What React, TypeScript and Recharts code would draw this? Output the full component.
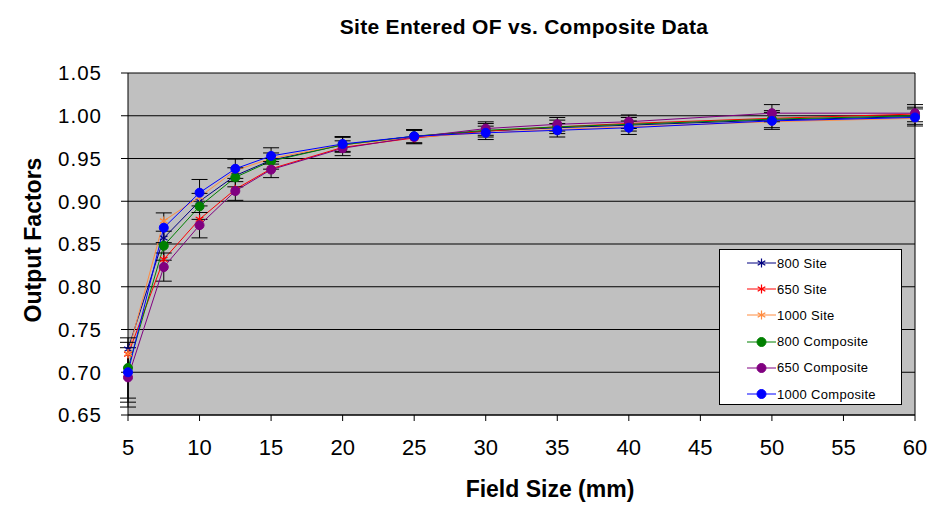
import React from 'react';
import { LineChart, Line, XAxis, YAxis, CartesianGrid, ErrorBar, ReferenceLine } from 'recharts';

// field sizes (mm)
const fieldSizes = [5, 7.5, 10, 12.5, 15, 20, 25, 30, 35, 40, 50, 60];

// output factors
const site800 = [0.727, 0.857, 0.9, 0.93, 0.948, 0.966, 0.976, 0.982, 0.986, 0.989, 0.995, 0.999];
const site650 = [0.721, 0.832, 0.879, 0.914, 0.938, 0.963, 0.974, 0.982, 0.987, 0.991, 0.997, 1.002];
const site1000 = [0.722, 0.877, 0.905, 0.936, 0.95, 0.966, 0.975, 0.98, 0.984, 0.987, 0.993, 0.997];
const comp800 = [0.705, 0.848, 0.894, 0.928, 0.947, 0.966, 0.976, 0.983, 0.987, 0.99, 0.996, 1.0];
const comp650 = [0.694, 0.823, 0.872, 0.912, 0.937, 0.962, 0.975, 0.985, 0.99, 0.993, 1.003, 1.003];
const comp1000 = [0.7, 0.869, 0.91, 0.938, 0.953, 0.967, 0.976, 0.98, 0.983, 0.986, 0.994, 0.998];

// error bar size on the composite data, percent
const errorPct = [5, 2, 1.7, 1.2, 1, 0.9, 0.8, 0.8, 0.8, 0.8, 1, 1];

const yTicks = [0.65, 0.7, 0.75, 0.8, 0.85, 0.9, 0.95, 1.0, 1.05];
const xTicks = [5, 10, 15, 20, 25, 30, 35, 40, 45, 50, 55, 60];

const series = [
  { key: 'site800', name: '800 Site', values: site800, color: '#000080', marker: 'star' },
  { key: 'site650', name: '650 Site', values: site650, color: '#FF0000', marker: 'star' },
  { key: 'site1000', name: '1000 Site', values: site1000, color: '#FF8C40', marker: 'star' },
  { key: 'comp800', name: '800 Composite', values: comp800, color: '#008000', marker: 'circle' },
  { key: 'comp650', name: '650 Composite', values: comp650, color: '#800080', marker: 'circle' },
  { key: 'comp1000', name: '1000 Composite', values: comp1000, color: '#0000FF', marker: 'circle' },
];

const data = fieldSizes.map((x, i) => {
  const row: any = { x };
  series.forEach((s) => {
    row[s.key] = s.values[i];
    if (s.marker === 'circle') row[s.key + 'Err'] = (s.values[i] * errorPct[i]) / 100;
  });
  return row;
});

const FONT = '"Liberation Sans", Arial, sans-serif';

function Marker({ cx, cy, color, marker }: any) {
  if (cx == null || cy == null) return null;
  if (marker === 'circle') {
    return <circle cx={cx} cy={cy} r={4.5} fill={color} stroke={color} />;
  }
  const r = 4.5;
  const d = r * 0.85;
  return (
    <g stroke={color} strokeWidth={1.2}>
      <line x1={cx} y1={cy - r} x2={cx} y2={cy + r} />
      <line x1={cx - d} y1={cy - d * 0.6} x2={cx + d} y2={cy + d * 0.6} />
      <line x1={cx - d} y1={cy + d * 0.6} x2={cx + d} y2={cy - d * 0.6} />
    </g>
  );
}

// legend box sits on top of the plot, like the Excel original
function LegendBox() {
  return (
    <div
      style={{
        position: 'absolute',
        left: 719,
        top: 249,
        width: 183,
        height: 156,
        boxSizing: 'border-box',
        background: '#fff',
        border: '1px solid #000',
        paddingTop: 0,
        fontFamily: FONT,
        fontSize: 13,
        letterSpacing: 0.3,
        color: '#000',
      }}
    >
      {series.map((s) => (
        <div key={s.key} style={{ display: 'flex', alignItems: 'center', height: 26.2, paddingLeft: 27 }}>
          <svg width={29} height={12} style={{ marginRight: 1 }}>
            <line x1={0} y1={6} x2={29} y2={6} stroke={s.color} strokeWidth={1} />
            <Marker cx={14.5} cy={6} color={s.color} marker={s.marker} />
          </svg>
          <span>{s.name}</span>
        </div>
      ))}
    </div>
  );
}

export default function App() {
  return (
    <div style={{ position: 'absolute', left: 0, top: 0, width: 934, height: 518, background: '#fff' }}>
      <div
        style={{
          position: 'absolute',
          left: 0,
          width: 1048,
          top: 15,
          textAlign: 'center',
          fontFamily: FONT,
          fontWeight: 'bold',
          fontSize: 21,
          letterSpacing: 0.3,
        }}
      >
        Site Entered OF vs. Composite Data
      </div>
      <div
        style={{
          position: 'absolute',
          left: 33,
          top: 240,
          transform: 'translate(-50%, -50%) rotate(-90deg)',
          whiteSpace: 'nowrap',
          fontFamily: FONT,
          fontWeight: 'bold',
          fontSize: 23,
        }}
      >
        Output Factors
      </div>
      <div
        style={{
          position: 'absolute',
          left: 0,
          width: 1100,
          top: 476,
          textAlign: 'center',
          fontFamily: FONT,
          fontWeight: 'bold',
          fontSize: 23,
        }}
      >
        Field Size (mm)
      </div>
      <LineChart
        width={934}
        height={518}
        data={data}
        margin={{ top: 73, right: 19, bottom: 0, left: 0 }}
      >
        <CartesianGrid vertical={false} fill="#C0C0C0" stroke="#000" strokeOpacity={1} horizontalValues={yTicks} />
        <XAxis
          dataKey="x"
          type="number"
          domain={[5, 60]}
          ticks={xTicks}
          interval={0}
          height={103}
          axisLine={{ stroke: '#000' }}
          tickLine={{ stroke: '#000' }}
          tickSize={6}
          tickMargin={18}
          tick={{ fill: '#000', fontSize: 22, fontFamily: FONT }}
        />
        <YAxis
          type="number"
          domain={[0.65, 1.05]}
          ticks={yTicks}
          interval={0}
          width={128}
          tickFormatter={(v: number) => v.toFixed(2)}
          axisLine={{ stroke: '#000' }}
          tickLine={{ stroke: '#000' }}
          tickSize={7}
          tickMargin={19}
          tick={{ fill: '#000', fontSize: 20.5, fontFamily: FONT, letterSpacing: 1 }}
        />
        <ReferenceLine x={60} stroke="#000" />
        {series.map((s) => (
          <Line
            key={s.key}
            dataKey={s.key}
            name={s.name}
            type="linear"
            stroke={s.color}
            strokeWidth={1}
            isAnimationActive={false}
            dot={(p: any) => <Marker key={s.key + p.index} cx={p.cx} cy={p.cy} color={s.color} marker={s.marker} />}
            activeDot={false}
          >
            {s.marker === 'circle' && (
              <ErrorBar dataKey={s.key + 'Err'} direction="y" width={8} stroke="#000" strokeWidth={1} />
            )}
          </Line>
        ))}
      </LineChart>
      <LegendBox />
    </div>
  );
}
